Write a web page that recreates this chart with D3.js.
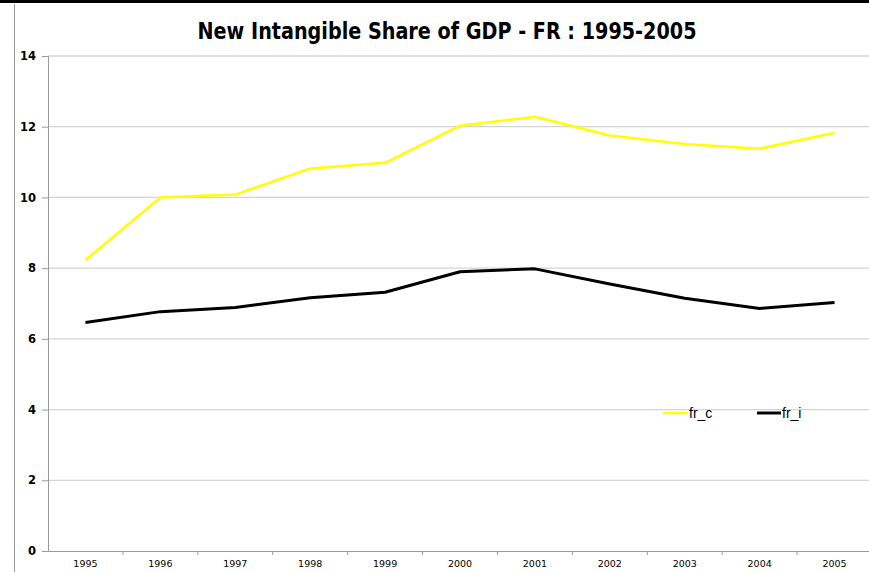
<!DOCTYPE html>
<html><head><meta charset="utf-8">
<script src="https://cdn.jsdelivr.net/npm/d3@7"></script>
<style>body{margin:0;background:#fff}svg{display:block}</style>
</head><body>
<script>
const years = ["1995","1996","1997","1998","1999","2000","2001","2002","2003","2004","2005"];
const fr_c = [8.23,10.0,10.08,10.82,10.98,12.03,12.28,11.75,11.51,11.38,11.83];
const fr_i = [6.46,6.77,6.89,7.16,7.32,7.90,7.98,7.55,7.15,6.86,7.03];
const yTicks = [0,2,4,6,8,10,12,14];
const seriesNames = ["fr_c","fr_i"];
const seriesColors = ["#ffff00","#000000"];

const W=869,H=572;
const svg=d3.select("body").append("svg").attr("width",W).attr("height",H);
svg.append("rect").attr("width",W).attr("height",H).attr("fill","#fff");
svg.append("rect").attr("x",0).attr("y",0).attr("width",W).attr("height",3).attr("fill","#000");
svg.append("line").attr("x1",14.5).attr("x2",14.5).attr("y1",4).attr("y2",H).attr("stroke","#999").attr("stroke-width",1);

const L=48,R=872,T=56,B=551;
const x=d3.scaleBand().domain(years).range([L,R]);
const y=d3.scaleLinear().domain([0,14]).range([B,T]);

// gridlines
svg.append("g").selectAll("line").data(yTicks.filter(d=>d>0)).join("line")
 .attr("x1",L).attr("x2",W).attr("y1",d=>y(d)).attr("y2",d=>y(d))
 .attr("stroke","#d4d4d4").attr("stroke-width",1.3);

// y axis
const ya=svg.append("g").attr("transform",`translate(${L},0)`)
 .call(d3.axisLeft(y).tickValues(yTicks).tickSize(6).tickPadding(6));
ya.select(".domain").attr("stroke","#999");
ya.selectAll(".tick line").attr("stroke","#999");
ya.selectAll("text").attr("font-family","DejaVu Sans").attr("font-weight","bold").attr("font-size","11.5px").attr("fill","#000");

// x axis
const xa=svg.append("g").attr("transform",`translate(0,${B})`)
 .call(d3.axisBottom(x).tickSize(0).tickPadding(9));
xa.select(".domain").attr("stroke","#999");
xa.selectAll("text").attr("font-family","DejaVu Sans").attr("font-size","9.5px").attr("fill","#000");
svg.append("g").selectAll("line").data(years.slice(1)).join("line")
 .attr("x1",d=>x(d)).attr("x2",d=>x(d)).attr("y1",B).attr("y2",B+4).attr("stroke","#999");

const line=d3.line().x((d,i)=>x(years[i])+x.bandwidth()/2).y(d=>y(d));
[fr_c,fr_i].forEach((s,k)=>{
 svg.append("path").datum(s).attr("d",line).attr("fill","none")
  .attr("stroke",seriesColors[k]).attr("stroke-width",k?3:2.5).attr("stroke-linejoin","round");
});

// legend
const lg=[[663,689],[757,782]];
seriesNames.forEach((n,k)=>{
 svg.append("line").attr("x1",lg[k][0]).attr("x2",lg[k][0]+24).attr("y1",413).attr("y2",413)
  .attr("stroke",seriesColors[k]).attr("stroke-width",k?3:2.5);
 svg.append("text").attr("x",lg[k][1]).attr("y",418).text(n)
  .attr("font-family","Liberation Sans").attr("font-size","14px").attr("fill","#000");
});

svg.append("text").attr("x",447).attr("y",39).attr("text-anchor","middle")
 .attr("font-family","DejaVu Sans").attr("font-weight","bold").attr("font-size","23px")
 .attr("textLength",499).attr("lengthAdjust","spacingAndGlyphs")
 .text("New Intangible Share of GDP - FR : 1995-2005");
</script>
</body></html>
